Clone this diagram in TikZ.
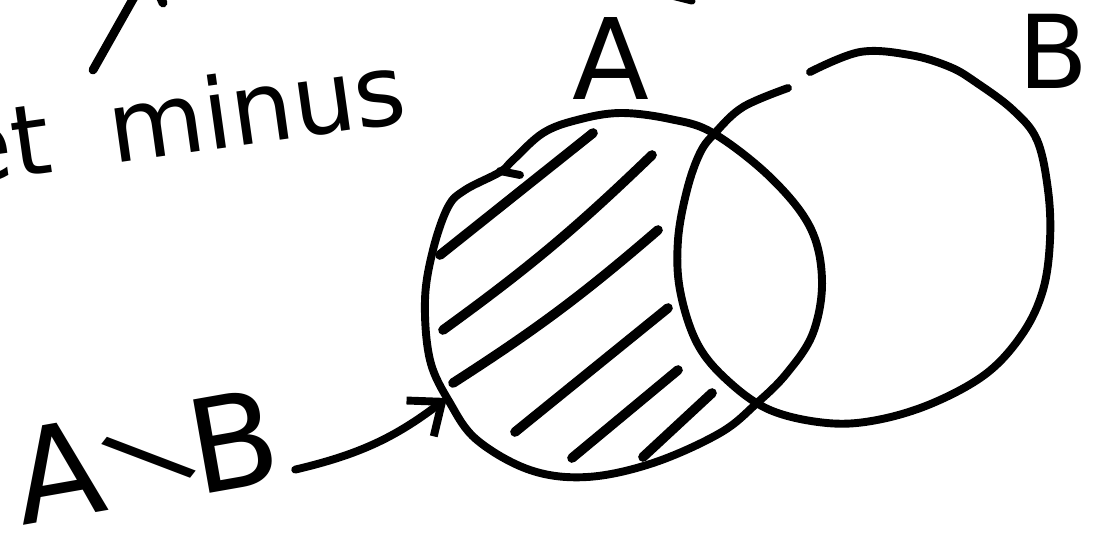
\documentclass[tikz,border=0pt]{standalone}
\usepackage{graphicx}
\usepackage{fontspec}
\setmainfont{DejaVu Sans}
\usetikzlibrary{arrows.meta}
\newcommand{\flatminus}{\makebox[0.68em][c]{\raisebox{0.02em}{\rotatebox[origin=c]{42}{\scalebox{0.85}{∖}}}}}
\begin{document}
\begin{tikzpicture}[x=0.02cm,y=-0.02cm,
  pen/.style={line width=4.5pt,line cap=round,line join=round},
  hatch/.style={line width=5.5pt,line cap=round},
  lbl/.style={inner sep=0pt}]
\useasboundingbox (0,0) rectangle (1099,539);
% labels
\node[lbl,anchor=base east,rotate=8,font=\fontsize{56}{56}\selectfont] (title) at (410,122) {set\hspace{0.6em}minus};
\node[lbl,font=\fontsize{64}{64}\selectfont] (labA) at (611,59) {A};
\node[lbl,font=\fontsize{58}{58}\selectfont] (labB) at (1053,51) {B};
\node[lbl,anchor=base west,rotate=10,font=\fontsize{74}{74}\selectfont] (diff) at (22,526) {A\flatminus B};
% bits of the line above
\draw[pen,line width=5pt] (93,70) -- (137,-8);
\draw[pen,line width=5pt] (159,-6) -- (163,3);
\draw[pen,line width=4pt] (672,-4) -- (692,1);
% set A
\draw[pen] plot[smooth cycle,tension=0.6] coordinates {
  (620,113) (670,119) (713,133) (770,177) (810,227) (822,280) (813,333)
  (787,373) (757,403) (720,433) (653,463) (587,477) (530,470) (477,440)
  (450,403) (430,360) (425,300) (433,250) (448,207) (465,190) (500,172)
  (513,160) (543,133) (577,120)};
\draw[pen] (500,171) -- (520,175);
% set B
\draw[pen] plot[smooth,tension=0.6] coordinates {
  (810,72) (860,52) (910,55) (950,67) (977,83) (1013,110) (1037,140)
  (1048,190) (1050,240) (1043,290) (1023,333) (987,373) (933,403)
  (877,420) (827,423) (770,410) (727,380) (697,343) (680,290) (678,240)
  (687,190) (700,153) (715,133) (743,107) (788,88)};
% hatching of A without B
\draw[hatch] (593,133) -- (440,255);
\draw[hatch] (652,155) to[bend left=4] (443,330);
\draw[hatch] (658,230) to[bend left=4] (453,383);
\draw[hatch] (668,308) -- (515,432);
\draw[hatch] (678,370) -- (572,458);
\draw[hatch] (712,393) -- (643,457);
% arrow to the edge of A
\coordinate (tip) at (447,398);
\draw[pen,-{Straight Barb[length=5.5mm,width=9mm]}] ([shift={(10,-10)}]diff.base east) to[bend right=12] (tip);
\end{tikzpicture}
\end{document}
